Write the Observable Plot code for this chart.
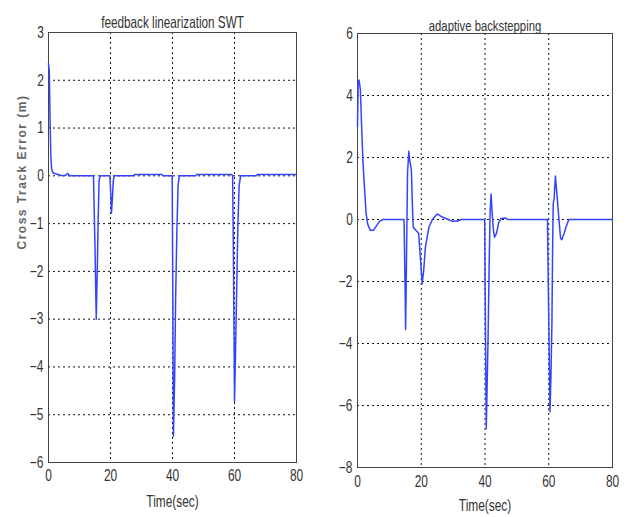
<!DOCTYPE html>
<html><head><meta charset="utf-8">
<script src="https://cdn.jsdelivr.net/npm/d3@7"></script>
<script src="https://cdn.jsdelivr.net/npm/@observablehq/plot@0.6"></script>
<style>
body{margin:0;background:#fff;}
#wrap{position:relative;width:631px;height:517px;overflow:hidden;background:#fff;}
#wrap svg{position:absolute;top:0;}
</style></head><body><div id="wrap"></div>
<script>
// ---- data ----
const titles = ["feedback linearization SWT", "adaptive backstepping"];
const yLabel = "Cross Track Error (m)";
const xLabel = "Time(sec)";
const xTicks = [0, 20, 40, 60, 80];
const leftYTicks = [-6, -5, -4, -3, -2, -1, 0, 1, 2, 3];
const rightYTicks = [-8, -6, -4, -2, 0, 2, 4, 6];

const leftTime = [0,0.25,0.5,0.75,1.0,1.5,2.5,3.5,4.5,5.5,6.2,6.8,14.5,15.0,15.4,15.7,16.0,16.3,16.7,19.8,20.1,20.3,20.6,20.9,21.2,27.4,27.8,36.6,37.0,39.9,40.1,40.3,40.7,41.0,41.4,41.8,42.2,47.4,47.8,59.0,59.4,59.7,60.0,60.3,60.7,61.1,61.5,62.0,67.0,67.4,80];
const leftError = [2.35,2.2,1.2,0.4,0.15,0.06,0.04,0.02,0.0,0.01,0.05,0.0,0.0,-1.5,-3.0,-2.1,-1.0,-0.1,0.0,0.0,-0.4,-0.78,-0.5,-0.1,0.0,0.0,0.03,0.03,0.0,0.0,-2.5,-5.45,-4.2,-2.6,-1.2,-0.2,0.0,0.0,0.03,0.03,0.0,-2.0,-4.72,-3.8,-2.4,-1.0,-0.2,0.0,0.0,0.03,0.03];

const rightTime = [0,0.2,0.5,0.9,1.3,1.7,2.2,2.7,3.2,4.0,5.0,6.0,7.0,8.0,14.6,14.9,15.1,15.4,15.7,16.1,16.4,16.9,17.3,17.5,18.3,19.2,19.7,20.3,20.8,21.3,22.4,23.5,25.0,26.6,28.5,29.8,31.5,32.5,39.9,40.1,40.4,40.7,41.0,41.3,41.6,41.9,42.2,42.6,43.0,43.6,44.3,45.0,46.4,47.0,59.6,59.9,60.4,60.7,61.0,61.2,61.4,61.7,62.1,62.5,62.9,63.2,63.7,64.1,64.8,65.4,66.3,80];
const rightError = [3.0,4.4,4.5,4.2,3.0,1.9,1.0,0.2,-0.15,-0.35,-0.35,-0.2,-0.05,0.0,0.0,-2.0,-3.55,-1.0,1.5,2.2,1.9,1.6,0.2,-0.25,-0.35,-0.45,-1.2,-2.07,-1.6,-0.9,-0.25,0.0,0.18,0.08,0.0,-0.06,-0.05,0.0,0.0,-3.0,-6.75,-5.2,-3.6,-1.5,0.2,0.82,0.3,-0.3,-0.57,-0.45,-0.1,0.03,0.05,0.0,0.0,-2.5,-6.2,-5.0,-3.3,-1.0,0.5,0.7,1.4,0.9,0.4,0.0,-0.6,-0.65,-0.45,-0.25,0.0,0.0];

const FONT = "'Liberation Sans',Arial,sans-serif";

function panel(o) {
  const data = o.t.map((d, i) => ({t: d, e: o.e[i]}));
  const marks = [
    Plot.gridX(xTicks, {stroke: "#111", strokeOpacity: 1, strokeDasharray: "2,3"}),
    Plot.gridY(o.yTicks, {stroke: "#111", strokeOpacity: 1, strokeDasharray: "2,3"}),
    Plot.frame({stroke: "#444", strokeWidth: 1}),
    Plot.line(data, {x: "t", y: "e", stroke: "#3344ff", strokeWidth: 1.5}),
    Plot.text([o.title], {frameAnchor: "top", dy: o.titleDy, fontSize: o.titleSize, fill: "#333"}),
    Plot.text([xLabel], {frameAnchor: "bottom", dy: o.xlabDy, fontSize: 14, fill: "#333"})
  ];
  if (o.showY) marks.push(Plot.text([yLabel], {frameAnchor: "left", rotate: -90, dx: -26, dy: 2, fontSize: 12, fontWeight: "bold", fill: "#666"}));
  const svg = Plot.plot({
    width: o.width, height: 517,
    marginLeft: o.ml, marginRight: o.mr, marginTop: o.mt, marginBottom: o.mb,
    style: {fontFamily: FONT, fontSize: "14px", color: "#333", background: "transparent", overflow: "visible"},
    x: {domain: [0, 80], ticks: xTicks, tickSize: 0, tickPadding: o.xPad, label: null},
    y: {domain: o.yDomain, ticks: o.yTicks, tickSize: 0, tickPadding: 4, label: null},
    marks
  });
  svg.style.left = o.left + "px";
  return svg;
}

// narrow, tall lettering like the reference (condensed MATLAB export)
function condense(svg) {
  svg.querySelectorAll("text").forEach(t => {
    if (t.textContent === yLabel) { t.setAttribute("letter-spacing", "1.5"); return; }
    const b = t.getBBox();
    const cx = b.x + b.width / 2, cy = b.y + b.height / 2;
    const prev = t.getAttribute("transform") || "";
    t.setAttribute("transform", `${prev} translate(${cx},${cy}) scale(0.85,1.15) translate(${-cx},${-cy})`);
  });
}

const wrap = document.getElementById("wrap");
const s1 = panel({t: leftTime, e: leftError, yDomain: [-6, 3], yTicks: leftYTicks, width: 310, left: 0,
  ml: 48, mr: 14, mt: 32, mb: 55, title: titles[0], titleSize: 13.8, titleDy: -15, xlabDy: 44, xPad: 8, showY: true});
const s2 = panel({t: rightTime, e: rightError, yDomain: [-8, 6], yTicks: rightYTicks, width: 321, left: 310,
  ml: 47, mr: 19, mt: 33, mb: 50, title: titles[1], titleSize: 13.3, titleDy: -13, xlabDy: 43, xPad: 9, showY: false});
wrap.appendChild(s1); wrap.appendChild(s2);
condense(s1); condense(s2);
</script></body></html>
